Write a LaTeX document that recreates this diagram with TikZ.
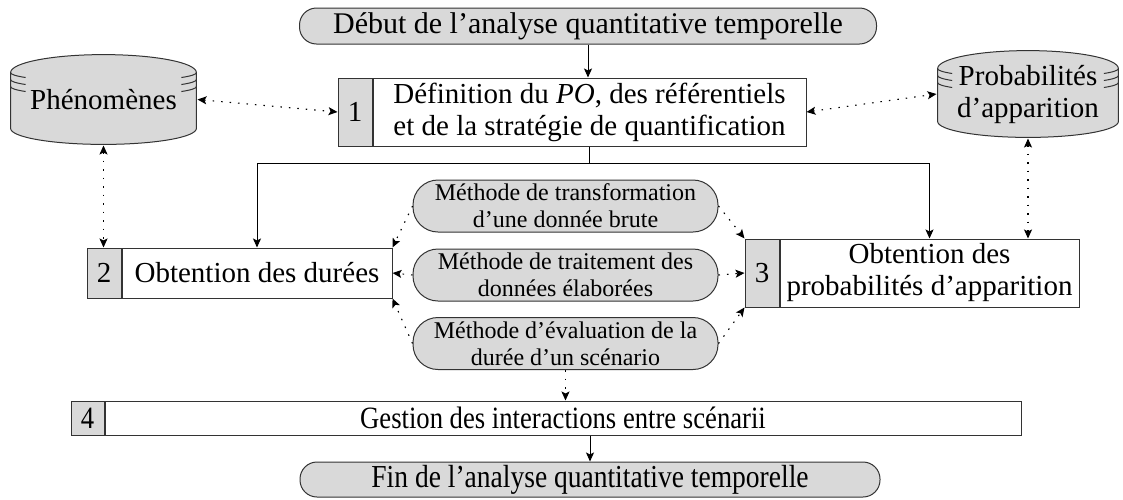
\documentclass[tikz,border=0pt]{standalone}
\usepackage{fontspec}
\setmainfont{Liberation Serif}
\newfontfamily\narrowserif[FakeStretch=0.86]{Liberation Serif}
\usetikzlibrary{arrows.meta, positioning, calc}
\definecolor{boxgray}{gray}{0.85}

\begin{document}
\begin{tikzpicture}[x=1pt, y=1pt,
    every node/.style={font=\fontsize{29}{32}\selectfont, line width=1pt},
    numcell/.style={draw=black!80, fill=boxgray, minimum width=34pt, inner sep=0pt},
    stepbox/.style={draw=black!80, fill=white, align=center, inner sep=1pt},
    pill/.style={rectangle, rounded corners=17pt, draw=black!80, fill=boxgray,
      inner sep=0pt, minimum height=36pt},
    method/.style={pill, rounded corners=25pt, align=center, minimum width=305pt,
      minimum height=52pt, font=\fontsize{24}{27}\selectfont},
    database/.style={fill=white, align=center, inner sep=0pt,
      path picture={
        \draw[black!80, fill=boxgray, line width=1pt]
          let \p1=($(path picture bounding box.north west)+(0.6,-0.6)$),
              \p2=($(path picture bounding box.south east)+(-0.6,0.6)$),
              \n1={(\x2-\x1)/2}
          in (\x1,\y1-18) arc[start angle=180, end angle=0, x radius=\n1, y radius=18pt]
            -- (\x2,\y2+16) arc[start angle=0, end angle=-180, x radius=\n1, y radius=16pt]
            -- cycle;
        \foreach \dy in {0,7,14}
          \draw[black!80, line width=1pt]
            let \p1=($(path picture bounding box.north west)+(0.6,-0.6)$),
                \p2=($(path picture bounding box.south east)+(-0.6,0.6)$),
                \n1={(\x2-\x1)/2}
            in (\x1,\y1-18-\dy) arc[start angle=180, end angle=213, x radius=\n1, y radius=9pt]
               (\x2,\y1-18-\dy) arc[start angle=0, end angle=-33, x radius=\n1, y radius=9pt];
      }},
    flow/.style={-{Stealth[length=9pt, width=8pt, inset=2pt]}, line width=1pt},
    link/.style={-{Stealth[length=9pt, width=8pt, inset=2pt]}, line width=1.1pt,
      dash pattern=on 1.5pt off 7pt},
    twolink/.style={link, {Stealth[length=9pt, width=8pt, inset=2pt]}-{Stealth[length=9pt, width=8pt, inset=2pt]}}
  ]
    \useasboundingbox (0,0) rectangle (1123,-499);

    % steps of the analysis
    \node[pill, minimum width=577pt, font=\fontsize{30}{32}\selectfont] (debut) at (588,-26)
      {Début de l’analyse quantitative temporelle};
    \node[numcell, minimum height=68pt] (num1) at (355,-112) {1};
    \node[stepbox, right=0pt of num1, minimum width=433pt, minimum height=68pt] (definition)
      {Définition du \textit{PO}, des référentiels\\et de la stratégie de quantification};

    \node[database, minimum width=187pt, minimum height=91pt] (phenomenes) at (103.5,-99.5) {Phénomènes};
    \node[database, minimum width=182pt, minimum height=88pt] (probabilites) at (1028,-94)
      {Probabilités\\d’apparition};

    \node[numcell, minimum height=50pt] (num2) at (104,-273) {2};
    \node[stepbox, right=0pt of num2, minimum width=270pt, minimum height=50pt] (durees)
      {Obtention des durées};
    \node[numcell, minimum height=68pt] (num3) at (762,-273) {3};
    \node[stepbox, right=0pt of num3, minimum width=299pt, minimum height=68pt] (apparition)
      {Obtention des\\probabilités d’apparition};

    % methods
    \node[method] (transfo) at (565.5,-206) {Méthode de transformation\\d’une donnée brute};
    \node[method] (traitement) at (565.5,-275) {Méthode de traitement des\\données élaborées};
    \node[method] (evaluation) at (565.5,-343.5) {Méthode d’évaluation de la\\durée d’un scénario};

    \node[numcell, minimum width=33pt, minimum height=34pt, font=\narrowserif\fontsize{31}{32}\selectfont]
      (num4) at (87.5,-418) {4};
    \node[stepbox, right=0pt of num4, minimum width=916pt, minimum height=34pt, inner sep=0pt,
      font=\narrowserif\fontsize{31}{32}\selectfont] (gestion) {Gestion des interactions entre scénarii};
    \node[pill, minimum width=580pt, minimum height=35pt, font=\narrowserif\fontsize{32}{32}\selectfont]
      (fin) at (590,-479.5) {Fin de l’analyse quantitative temporelle};

    % main flow
    \draw[flow] (debut.south) -- (debut.south |- definition.north);
    \coordinate[below=17pt of definition.south] (split);
    \draw[line width=1pt] (definition.south) -- (split);
    \draw[flow] (split) -| (durees.north);
    \draw[flow] (split) -| (apparition.north);
    \draw[flow] (gestion.south -| fin.north) -- (fin.north);

    % data links
    \draw[twolink] (phenomenes.east) -- (num1.west);
    \draw[twolink] (definition.east) -- (probabilites.west);
    \draw[twolink] (phenomenes.south) -- (phenomenes.south |- num2.north);
    \draw[twolink] (probabilites.south) -- (probabilites.south |- apparition.north);

    \draw[link] (transfo.west) -- (durees.north east);
    \draw[link] (traitement.west) -- (durees.east);
    \draw[link] (evaluation.west) -- (durees.south east);
    \draw[link] (transfo.east) -- (num3.north west);
    \draw[link] (traitement.east) -- (num3.west);
    \draw[link] (evaluation.east) -- (num3.south west);
    \draw[link] (evaluation.south) -- (evaluation.south |- gestion.north);
  \end{tikzpicture}
\end{document}
